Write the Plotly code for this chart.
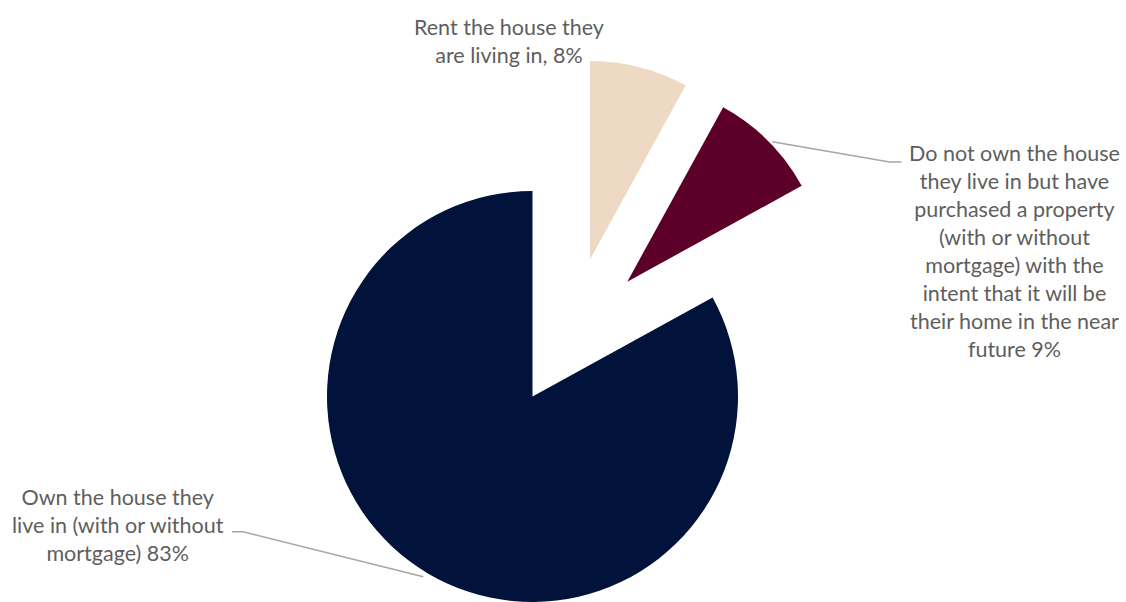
import plotly.graph_objects as go

# Survey shares of home ownership status
categories = [
    "Rent the house they are living in",
    "Do not own the house they live in but have purchased a property (with or without mortgage) with the intent that it will be their home in the near future",
    "Own the house they live in (with or without mortgage)",
]
values = [8, 9, 83]
label_texts = [
    "Rent the house they<br>are living in, 8%",
    "Do not own the house<br>they live in but have<br>purchased a property<br>(with or without<br>mortgage) with the<br>intent that it will be<br>their home in the near<br>future 9%",
    "Own the house they<br>live in (with or without<br>mortgage) 83%",
]
colors = ["#EDD9C4", "#5C0029", "#01133A"]

W, H = 1126, 602


def px_x(x):
    return x / W


def px_y(y):
    return 1 - y / H


# Each slice gets its own pie trace so the exploded wedges can be offset
# independently (centre x, centre y, radius in pixels).
slice_frames = [
    (590.0, 259.5, 198.5),   # rent, pulled out
    (627.3, 281.7, 199.0),   # purchased, pulled out
    (532.5, 396.5, 205.5),   # own
]

fig = go.Figure()
for i, (cx, cy, r) in enumerate(slice_frames):
    slice_colors = ["rgba(0,0,0,0)"] * len(values)
    slice_colors[i] = colors[i]
    fig.add_trace(go.Pie(
        labels=categories,
        values=values,
        sort=False,
        direction="clockwise",
        rotation=0,
        marker=dict(colors=slice_colors, line=dict(width=0)),
        textinfo="none",
        hoverinfo="skip",
        showlegend=False,
        domain=dict(
            x=[px_x(cx - r), px_x(cx + r)],
            y=[px_y(cy + r), px_y(cy - r)],
        ),
    ))

label_font = dict(family="Lato, 'Open Sans', sans-serif", size=21.5, color="#5E5E5E")

# Label anchors (centre of each text block, in pixels)
label_pos = [(508.5, 41.0), (1014.7, 251.0), (118.0, 525.0)]
for text, (lx, ly) in zip(label_texts, label_pos):
    fig.add_annotation(
        text=text, x=px_x(lx), y=px_y(ly), xref="paper", yref="paper",
        xanchor="center", yanchor="middle", align="center",
        showarrow=False, font=label_font,
    )

# Leader lines
leaders = [
    [(772.3, 141.7), (889.5, 162.0), (901.5, 162.0)],
    [(232.0, 531.7), (243.0, 531.7), (423.3, 576.7)],
]
for pts in leaders:
    path = "M " + " L ".join(f"{px_x(x)},{px_y(y)}" for x, y in pts)
    fig.add_shape(type="path", path=path, xref="paper", yref="paper",
                  line=dict(color="#A6A6A6", width=1.5))

fig.update_layout(
    width=W, height=H,
    margin=dict(l=0, r=0, t=0, b=0),
    paper_bgcolor="white",
    plot_bgcolor="white",
)

fig.write_html("out.html")
